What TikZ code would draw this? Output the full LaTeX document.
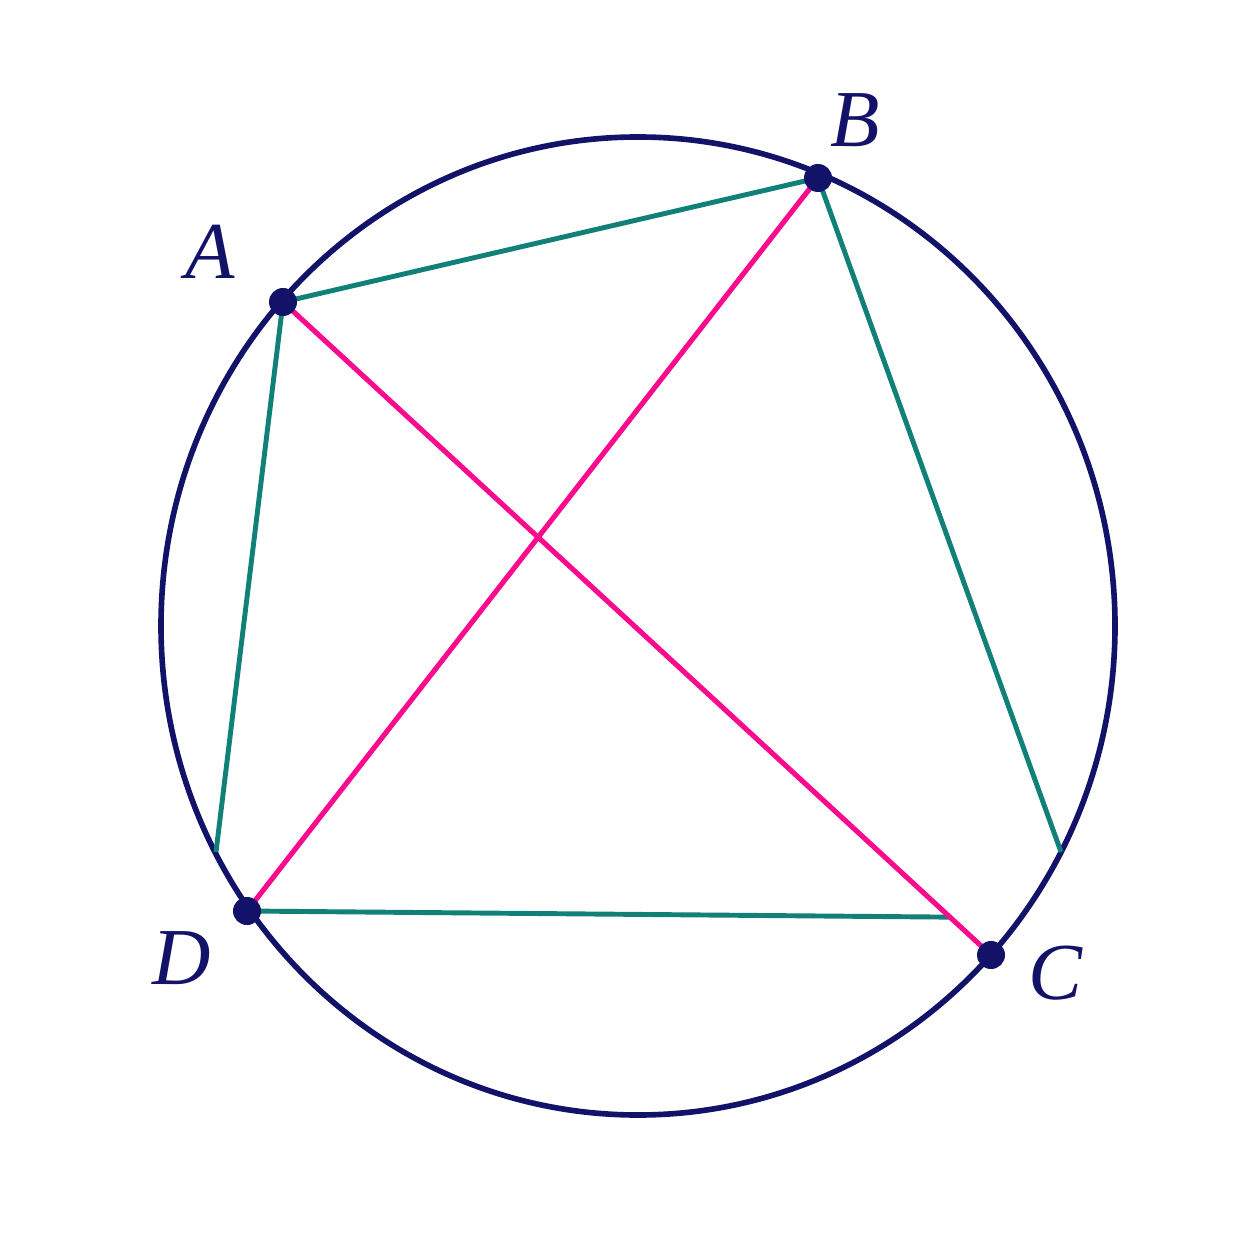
\documentclass[tikz,border=0pt]{standalone}
\usepackage{fontspec}
\setmainfont{Liberation Serif}
\usepackage{xcolor}
\usepackage{tikz}
\usetikzlibrary{calc, positioning}
\definecolor{navyblue}{RGB}{18, 18, 105}
\definecolor{tealgreen}{RGB}{16, 128, 120}
\definecolor{hotpink}{RGB}{250, 10, 140}

\begin{document}
\begin{tikzpicture}[
    rim/.style={draw=navyblue, line width=1.6pt},
    side/.style={tealgreen, line width=1.4pt},
    diag/.style={hotpink, line width=1.45pt},
    dot/.style={circle, fill=navyblue, inner sep=0pt, minimum size=0.28cm},
    lbl/.style={text=navyblue, font=\fontsize{23}{28}\selectfont\itshape}
]
    \useasboundingbox (0,0) rectangle (12.54,-12.54);

    % Circle
    \coordinate (O) at (6.38,-6.26);
    \draw[rim] (O) ellipse [x radius=4.77, y radius=4.89];

    % Points
    \coordinate (A) at (2.83,-3.02);
    \coordinate (B) at (8.18,-1.78);
    \coordinate (C) at (9.91,-9.55);
    \coordinate (D) at (2.47,-9.11);
    \coordinate (E) at (2.16,-8.52);
    \coordinate (F) at (10.61,-8.52);
    \coordinate (G) at ($(A)!0.942!(C)$);

    % Sides
    \draw[side] (A) -- (B);
    \draw[side] (B) -- (F);
    \draw[side] (A) -- (E);
    \draw[side] (D) -- (G);

    % Diagonals
    \draw[diag] (A) -- (C);
    \draw[diag] (B) -- (D);

    % Dots
    \node[dot] (a) at (A) {};
    \node[dot] (b) at (B) {};
    \node[dot] (c) at (C) {};
    \node[dot] (d) at (D) {};

    % Labels
    \node[lbl] (la) at (2.10,-2.52) {A};
    \node[lbl] (lb) at (8.55,-1.20) {B};
    \node[lbl] (lc) at (10.55,-9.73) {C};
    \node[lbl] (ld) at (1.82,-9.58) {D};
\end{tikzpicture}
\end{document}
